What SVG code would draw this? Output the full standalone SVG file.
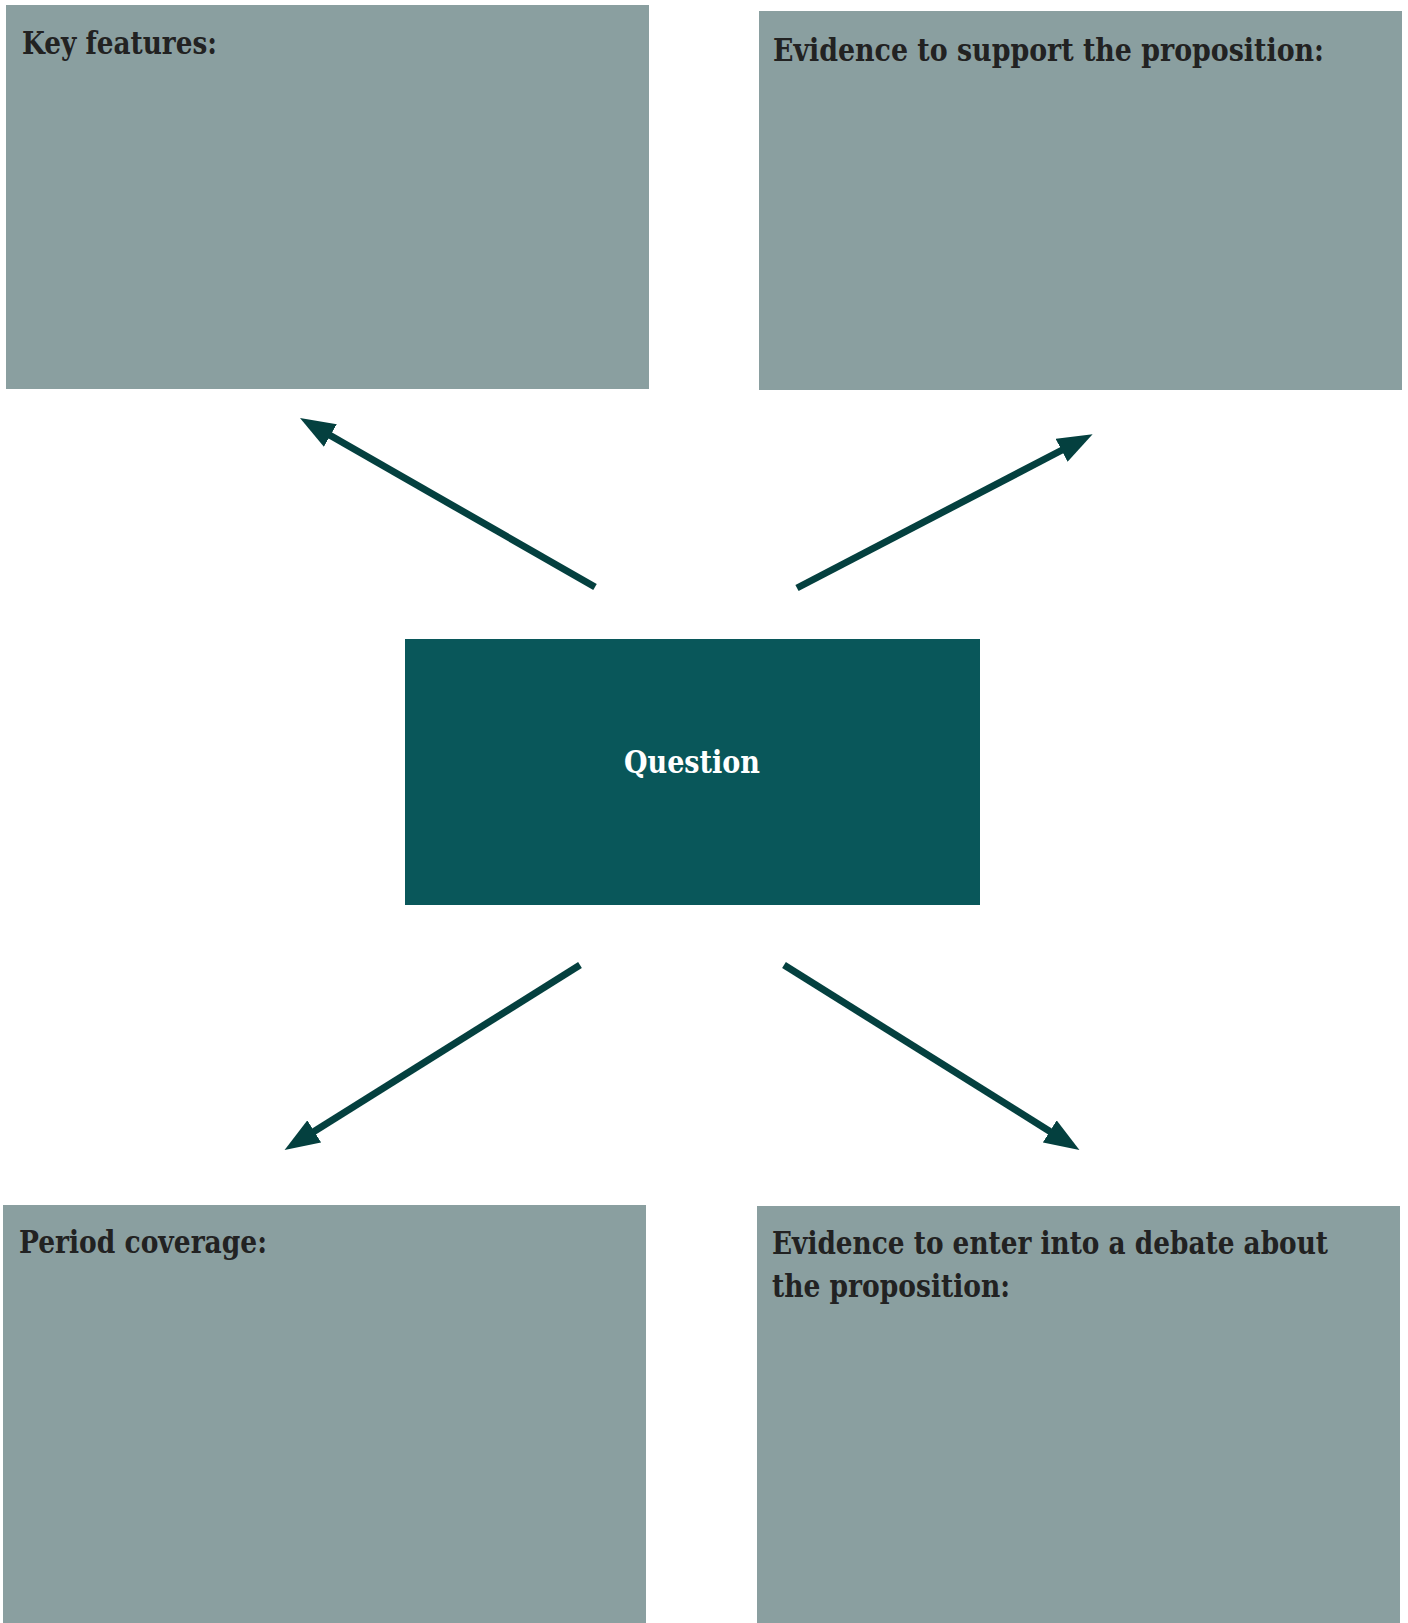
<svg xmlns="http://www.w3.org/2000/svg" width="1408" height="1623" viewBox="0 0 1408 1623">
  <style>
    .box { fill: #8a9fa0; }
    .lbl { font-family: "Roboto Slab", "DejaVu Serif Condensed", "DejaVu Serif", "Liberation Serif", serif; font-weight: bold; font-size: 32px; fill: #222222; }
    .qlbl { font-family: "Roboto Slab", "DejaVu Serif Condensed", "DejaVu Serif", "Liberation Serif", serif; font-weight: bold; font-size: 32px; fill: #ffffff; }
    .conn { stroke: #04403f; stroke-width: 7; fill: none; marker-end: url(#head); }
  </style>
  <defs>
    <marker id="head" viewBox="0 -13 35 26" refX="5" refY="0" markerWidth="35" markerHeight="26" markerUnits="userSpaceOnUse" orient="auto">
      <path d="M0,-13 L35,0 L0,13 Z" fill="#04403f"/>
    </marker>
  </defs>
  <rect width="1408" height="1623" fill="#ffffff"/>
  <g id="key-features">
    <rect class="box" x="6" y="5" width="643" height="384"/>
    <text class="lbl" x="22" y="54" textLength="195" lengthAdjust="spacingAndGlyphs">Key features:</text>
  </g>
  <g id="evidence-support">
    <rect class="box" x="759" y="11" width="643" height="379"/>
    <text class="lbl" x="773" y="61" textLength="551" lengthAdjust="spacingAndGlyphs">Evidence to support the proposition:</text>
  </g>
  <g id="question">
    <rect x="405" y="639" width="575" height="266" fill="#09575a"/>
    <text class="qlbl" x="624" y="773" textLength="136" lengthAdjust="spacingAndGlyphs">Question</text>
  </g>
  <g id="period-coverage">
    <rect class="box" x="3" y="1205" width="643" height="418"/>
    <text class="lbl" x="19" y="1253" textLength="248" lengthAdjust="spacingAndGlyphs">Period coverage:</text>
  </g>
  <g id="evidence-debate">
    <rect class="box" x="757" y="1206" width="643" height="417"/>
    <text class="lbl" x="772" y="1254" textLength="556" lengthAdjust="spacingAndGlyphs">Evidence to enter into a debate about</text>
    <text class="lbl" x="772" y="1297" textLength="238" lengthAdjust="spacingAndGlyphs">the proposition:</text>
  </g>
  <g id="connectors">
    <line class="conn" x1="595" y1="587" x2="326" y2="433"/>
    <line class="conn" x1="797" y1="588" x2="1066" y2="448"/>
    <line class="conn" x1="580" y1="965" x2="310" y2="1134"/>
    <line class="conn" x1="784" y1="965" x2="1054" y2="1134"/>
  </g>
</svg>
